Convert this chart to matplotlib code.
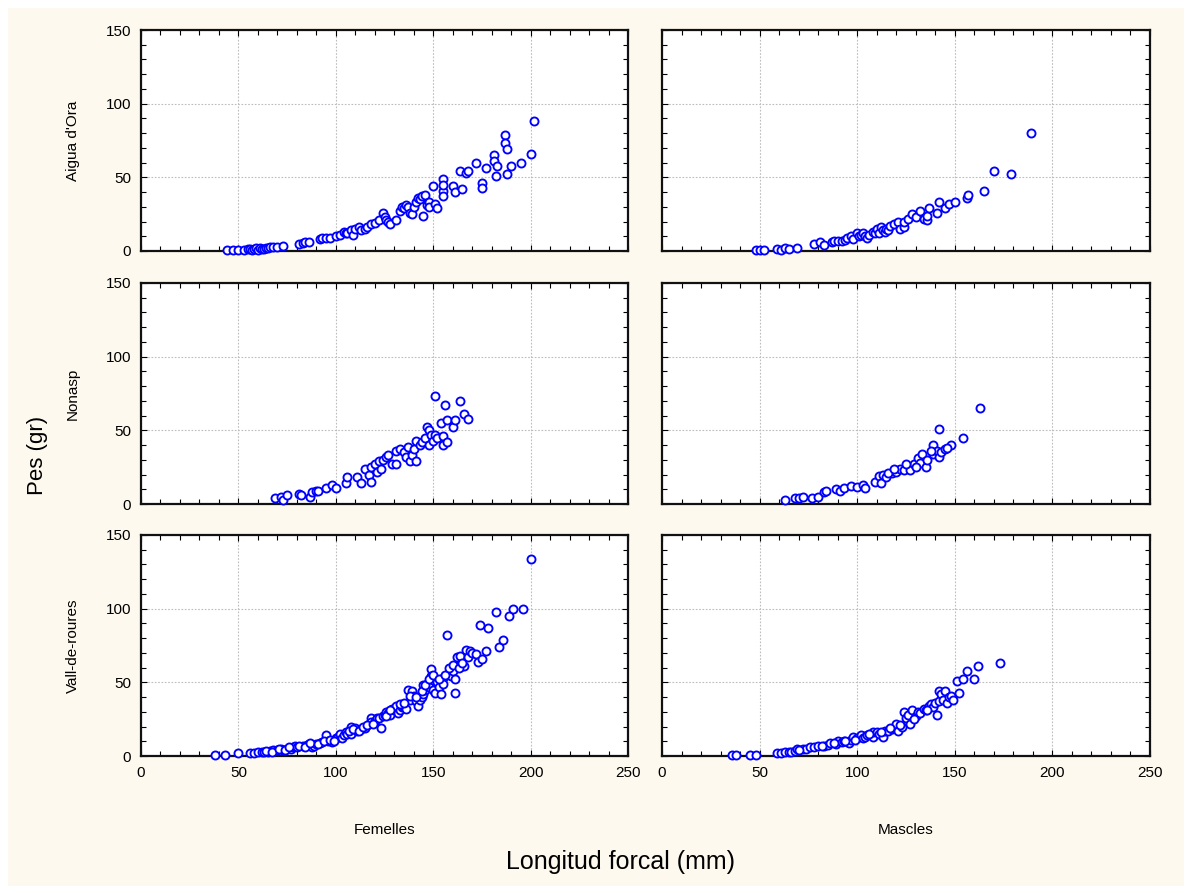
import matplotlib
matplotlib.use("Agg")
import matplotlib.pyplot as plt
from matplotlib.ticker import MultipleLocator
from matplotlib.patches import Rectangle

plt.rcParams['font.family'] = ['Liberation Sans', 'DejaVu Sans']

# Row / column labels
sites = ["Aigua d'Ora", "Nonasp", "Vall-de-roures"]
sexes = ["Femelles", "Mascles"]
x_ticks = [0, 50, 100, 150, 200, 250]
y_ticks = [0, 50, 100, 150]

# Aigua d'Ora - Femelles
ao_f_len = [44, 47, 50, 53, 55, 56, 57, 58, 59, 60, 61, 62, 63, 64, 65, 66, 68, 70, 73,
            81, 83, 84, 86,
            92, 93, 95, 97, 100,
            102, 104, 105, 106, 108, 109, 110, 112, 113, 115, 116, 118,
            120, 122, 124, 125, 126, 127, 128, 131,
            133, 134, 135, 136, 137, 138, 139, 140, 141, 142, 143, 144, 145, 146, 147, 148, 148, 150, 151, 152,
            155, 155, 155, 155, 160, 161, 164, 165, 167, 168, 172, 175, 175, 177, 181, 181, 182, 183,
            187, 187, 188, 188, 190, 195, 200, 202]
ao_f_pes = [0.5, 0.7, 1, 1, 1.2, 1.5, 1, 1.5, 1.8, 1, 2, 1.5, 1.6, 2, 2, 2.5, 2.5, 3, 3.5,
            5, 5.5, 6, 6,
            8, 8.5, 9, 8.5, 10,
            11, 13, 12, 12, 14, 11, 15, 16, 14, 15, 16, 18,
            19, 21, 26, 23, 21, 20, 18, 21,
            27, 30, 29, 31, 30, 26, 25, 30, 33, 36, 35, 37, 24, 38, 31, 33, 30, 44, 32, 29,
            49, 41, 37, 45, 44, 40, 54, 42, 53, 54, 60, 46, 43, 56, 65, 61, 51, 58,
            79, 73, 69, 52, 58, 60, 66, 88]

# Aigua d'Ora - Mascles
ao_m_len = [48, 50, 52, 59, 61, 63, 65, 69,
            78, 81, 83, 87, 88, 90, 92, 94, 95, 97, 98,
            100, 101, 102, 103, 104, 105, 106, 108, 109, 110, 111, 112, 113, 114, 115, 116,
            117, 119, 121, 122, 124, 124, 126, 128, 130, 132, 134, 136, 136, 137, 141, 142, 145, 147, 150,
            156, 157, 165, 170, 179, 189]
ao_m_pes = [0.5, 0.5, 0.5, 1.6, 1, 2, 1.5, 2,
            5, 6, 4, 6, 7, 6.5, 7, 7.5, 9, 10, 8,
            12, 10, 11, 12, 10, 9, 11, 13, 12, 15, 12, 16, 14, 13, 15, 14,
            17, 18, 20, 15, 16, 20, 22, 25, 23, 27, 22, 21, 24, 29, 26, 33, 29, 32, 33,
            36, 38, 41, 54, 52, 80]

# Nonasp - Femelles
no_f_len = [69, 72, 73, 75, 81, 82, 87, 88, 90, 91, 95, 98, 100,
            105, 106, 111, 113, 115, 117, 118, 118, 120, 121, 122, 123, 124, 126, 127, 129, 131, 131, 133,
            135, 136, 137, 138, 139, 140, 141, 141, 143, 144, 146, 147, 148, 148, 149, 150, 151, 151, 152,
            154, 155, 155, 156, 157, 157, 160, 161, 164, 166, 168]
no_f_pes = [4, 5, 2.5, 6, 6.5, 6, 5, 8, 9, 8.5, 11, 13, 11,
            14, 18, 18, 14, 24, 20, 25, 15, 27, 22, 29, 24, 30, 32, 33, 27, 36, 27, 37,
            35, 32, 39, 29, 33, 37, 29, 43, 40, 42, 45, 52, 50, 40, 47, 43, 73, 47, 45,
            55, 46, 40, 67, 42, 57, 52, 57, 70, 61, 58]

# Nonasp - Mascles
no_m_len = [63, 68, 70, 72, 77, 80, 83, 84, 89, 91, 93, 97, 100, 103, 104,
            109, 111, 112, 113, 115, 118, 120, 122, 124, 127, 129, 131, 132, 133, 135, 136,
            139, 139, 141, 142, 142, 143, 145, 148, 154, 163,
            116, 119, 125, 130, 138, 146]
no_m_pes = [3, 4, 4, 5, 4, 5, 8, 8.5, 10, 9, 11, 12, 11.5, 13, 11,
            15, 19, 14, 20, 18, 21, 22, 24, 23, 23, 27, 31, 28, 34, 25, 30,
            40, 34, 36, 51, 32, 35.5, 37, 40, 45, 65,
            21, 24, 27, 25, 36, 38]

# Vall-de-roures - Femelles
vr_f_len = [38, 43, 50, 56, 58, 60, 62, 63, 65, 66, 68, 70, 72, 73, 75, 77, 78, 79, 80, 83,
            85, 86, 88, 89, 90, 92, 93, 95, 96, 98,
            100, 101, 102, 103, 104, 105, 106, 108, 108, 110, 111, 113, 115, 117, 118, 118, 120, 121, 122, 123,
            124, 125, 126, 127, 128, 129, 130, 131, 132, 133, 134, 135, 136, 137, 138, 139, 140, 141, 142, 143,
            144, 145, 145, 146, 147, 148, 149, 149, 150, 151, 152, 153, 154, 155, 155, 157, 158, 159, 160, 161,
            161, 162, 164, 164, 165, 166, 167, 168, 169, 170, 172, 173, 174, 175, 177, 178, 182, 184, 186, 189,
            191, 196, 200,
            64, 67, 71, 74, 76, 81, 84, 87, 91, 94, 97, 99,
            107, 109, 112, 114, 116, 119, 126, 128, 133, 135, 138, 141, 144, 146, 148, 150, 153, 156, 158, 160,
            163, 165]
vr_f_pes = [0.8, 0.8, 1.9, 2, 2, 2.5, 3, 3, 3, 3.5, 4, 4, 4.5, 4, 5, 5, 6, 7, 6, 7,
            7.5, 8, 6, 7, 8, 9, 9.5, 14, 10, 9.5,
            12, 13, 15, 12, 14, 16, 15, 20, 15, 19, 17, 18, 19, 22, 25.5, 23, 24, 26, 26, 19,
            27, 28, 30, 29, 28, 32, 31, 34, 29, 31, 33, 33, 32, 45, 38, 44, 41, 37, 34, 38,
            40, 48, 42, 45, 49, 47, 59, 54, 45, 43, 50, 47, 42, 53, 49, 82, 56, 54, 58, 52,
            43, 67, 68, 62, 61, 61, 72, 67, 71, 70, 69, 64, 89, 66, 71, 87, 98, 74, 79, 95,
            100, 100, 134,
            3.5, 3, 5, 4, 6, 7, 6, 9, 8, 10, 11, 10,
            17, 18, 17, 20, 21, 22, 27, 31, 35, 36, 41, 40, 44, 48, 52, 55, 52, 55, 60, 62,
            60, 63]

# Vall-de-roures - Mascles
vr_m_len = [36, 38, 45, 48, 59, 61, 63, 65, 66, 68, 69, 72, 74, 76, 78, 80,
            83, 85, 86, 89, 90, 92, 93, 96, 97, 98,
            100, 102, 103, 104, 105, 107, 108, 108, 110, 111,
            113, 114, 116, 118, 119, 120, 121, 123, 124, 125,
            126, 127, 128, 130, 131, 132, 134, 135, 137, 138,
            139, 140, 142, 142, 143, 144, 145, 146, 147, 148,
            149, 151, 152, 154, 156, 160, 162, 173,
            141, 106, 112, 117, 122, 129, 136, 99, 94, 88, 82, 70]
vr_m_pes = [0.5, 0.5, 0.5, 0.5, 2, 2, 2.5, 2.5, 3, 3.5, 5, 5, 4.5, 6, 6, 6.5,
            7, 7.5, 9, 8, 10, 9.5, 10.5, 9, 11, 13,
            12, 14, 12, 13, 14, 15, 13, 16, 16, 15,
            13, 17, 17, 18, 19, 22, 17, 20, 30, 26,
            28, 22, 31, 27, 30, 29, 32, 31, 34, 35,
            33, 36, 37, 44, 42, 38, 44, 36, 40, 41,
            38, 51, 43, 52, 58, 52, 61, 63,
            28, 15, 16, 19, 21, 25, 31, 11, 10, 9, 7, 4]

panels = [
    [(ao_f_len, ao_f_pes), (ao_m_len, ao_m_pes)],
    [(no_f_len, no_f_pes), (no_m_len, no_m_pes)],
    [(vr_f_len, vr_f_pes), (vr_m_len, vr_m_pes)],
]

W, H = 1184, 886
fig = plt.figure(figsize=(W / 100, H / 100), dpi=100)
fig.patch.set_facecolor('#FDF9EE')
# thin white margin along the top and left edges
fig.patches.append(Rectangle((0, 0), 8 / W, 1, transform=fig.transFigure,
                             facecolor='white', edgecolor='none', zorder=0))
fig.patches.append(Rectangle((0, 1 - 8 / H), 1, 8 / H, transform=fig.transFigure,
                             facecolor='white', edgecolor='none', zorder=0))

col_left = [141, 662]
col_width = [487, 488]
row_top = [30, 283, 535]
row_height = 221

for r in range(3):
    for c in range(2):
        x0 = col_left[c] / W
        y0 = 1 - (row_top[r] + row_height) / H
        ax = fig.add_axes([x0, y0, col_width[c] / W, row_height / H])
        ax.set_facecolor('white')
        lens, pes = panels[r][c]
        ax.plot(lens, pes, linestyle='none', marker='o', markersize=5.8,
                markerfacecolor='white', markeredgecolor='#0000FF',
                markeredgewidth=1.35, zorder=3, clip_on=False)
        ax.set_xlim(0, 250)
        ax.set_ylim(0, 150)
        ax.set_xticks(x_ticks)
        ax.set_yticks(y_ticks)
        ax.xaxis.set_minor_locator(MultipleLocator(10))
        ax.yaxis.set_minor_locator(MultipleLocator(10))
        ax.tick_params(which='both', direction='in', top=True, right=True,
                       width=0.8, color='black', labelsize=11, pad=7)
        ax.tick_params(which='major', length=4)
        ax.tick_params(which='minor', length=3.5)
        ax.tick_params(labelleft=(c == 0), labelbottom=(r == 2))
        ax.grid(True, which='major', color='#bdbdbd',
                linestyle=(0, (1.5, 1.5)), linewidth=0.8, zorder=0)
        ax.set_axisbelow(True)
        for s in ax.spines.values():
            s.set_linewidth(1.6)
            s.set_color('#111111')

# row labels
for r, name in enumerate(sites):
    yc = 1 - (row_top[r] + row_height / 2) / H
    fig.text(73 / W, yc, name, rotation=90, ha='center', va='center', fontsize=11)

# column labels
for c, name in enumerate(sexes):
    xc = (col_left[c] + col_width[c] / 2) / W
    fig.text(xc, 1 - 830 / H, name, ha='center', va='center', fontsize=11)

fig.text(38 / W, 1 - 455 / H, 'Pes (gr)', rotation=90, ha='center', va='center', fontsize=16)
fig.text(620 / W, 1 - 862 / H, 'Longitud forcal (mm)', ha='center', va='center', fontsize=18)

fig.savefig('out.png', dpi=100, facecolor=fig.get_facecolor())
